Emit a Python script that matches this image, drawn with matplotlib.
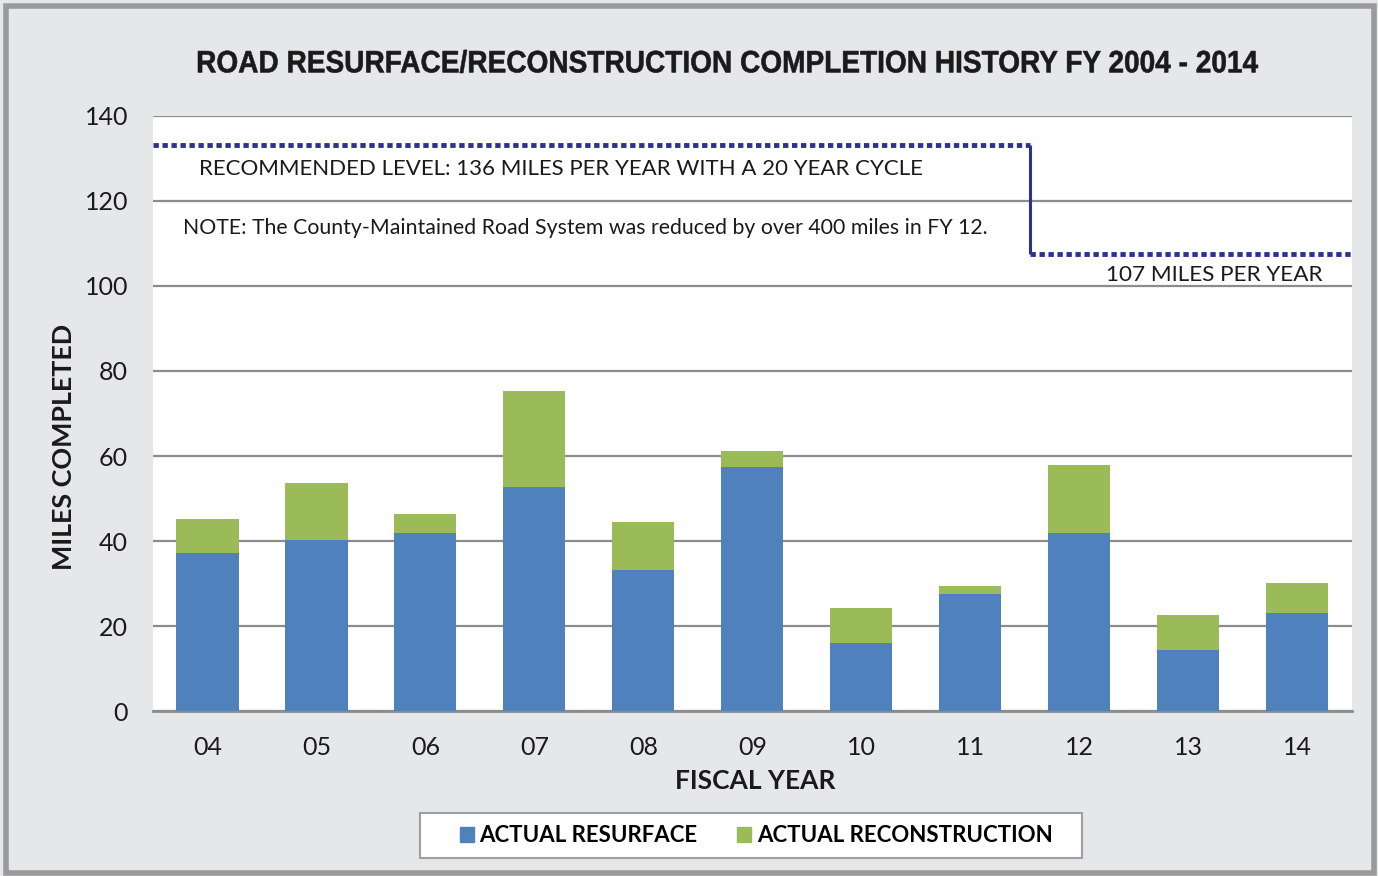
import matplotlib

matplotlib.use("Agg")
import matplotlib.pyplot as plt
from matplotlib.font_manager import FontProperties
from matplotlib.patches import PathPatch, Rectangle
from matplotlib.textpath import TextPath
from matplotlib.transforms import Affine2D

# datos
years = ["04", "05", "06", "07", "08", "09", "10", "11", "12", "13", "14"]
resurface = [37.2, 40.2, 41.9, 52.7, 33.2, 57.4, 16.0, 27.5, 41.9, 14.4, 23.1]
reconstruction = [8.0, 13.4, 4.5, 22.6, 11.3, 3.8, 8.2, 1.9, 16.0, 8.2, 7.0]

# nivel recomendado (escalón en FY 12)
level_x = [-0.5, 7.55, 10.5]
level_y = [133.2, 107.4]

yticks = [0, 20, 40, 60, 80, 100, 120, 140]

TITLE = "ROAD RESURFACE/RECONSTRUCTION COMPLETION HISTORY FY 2004 - 2014"

BLUE = "#4f81bd"
GREEN = "#9bbb59"
NAVY = "#2e3192"
GRID = "#8c8c8c"
BG = "#e6e7e9"
INK = "#1a1a1a"

plt.rcParams["font.family"] = ["Lato", "DejaVu Sans"]

W, H = 1378, 876
fig = plt.figure(figsize=(W / 100, H / 100), dpi=100)
fig.patch.set_facecolor(BG)
fig.patches.append(Rectangle((0.004, 0.003), 0.993, 0.99, transform=fig.transFigure,
                             fill=False, edgecolor="#9a9a9a", linewidth=4))

ax = fig.add_axes([0.111, 0.188, 0.870, 0.680])
x = range(len(years))
ax.bar(x, resurface, width=0.57, color=BLUE, zorder=3)
ax.bar(x, reconstruction, width=0.57, bottom=resurface, color=GREEN, zorder=3)

ax.hlines(level_y, level_x[:-1], level_x[1:], colors=NAVY, linewidth=3.5,
          linestyles=(0, (1.1, 0.75)), zorder=4)
ax.vlines(level_x[1], level_y[1], level_y[0], colors=NAVY, linewidth=2.2, zorder=4)

ax.text(-0.08, 127.5, "RECOMMENDED LEVEL: 136 MILES PER YEAR WITH A 20 YEAR CYCLE",
        fontsize=16, color=INK, va="center")
ax.text(-0.22, 113.5, "NOTE: The County-Maintained Road System was reduced by over 400 miles in FY 12.",
        fontsize=15.3, color=INK, va="center")
ax.text(10.23, 102.6, "107 MILES PER YEAR", fontsize=16.2, color=INK,
        ha="right", va="center")

ax.set_xlim(-0.5, len(years) - 0.5)
ax.set_ylim(0, 140)
ax.set_yticks(yticks)
ax.set_xticks(list(x))
ax.set_xticklabels(years)
ax.grid(axis="y", color=GRID, linewidth=1.6, zorder=0)
ax.tick_params(length=0, labelsize=18, colors=INK)
ax.tick_params(axis="y", pad=18)
ax.tick_params(axis="x", pad=18)
for side in ["top", "right", "left"]:
    ax.spines[side].set_visible(False)
ax.spines["bottom"].set_color(GRID)
ax.spines["bottom"].set_linewidth(2)

fig.text(755 / W, 1 - 781 / H, "FISCAL YEAR", fontsize=19, fontweight="bold",
         color=INK, ha="center", va="center")
fig.text(64 / W, 1 - 447 / H, "MILES COMPLETED", fontsize=19.4, fontweight="bold",
         color=INK, ha="center", va="center", rotation=90)

# título estrecho: se comprime el texto a lo ancho para imitar la fuente condensada
tp = TextPath((0, 0), TITLE, size=31,
              prop=FontProperties(family="Liberation Sans", weight="bold"))
ext = tp.get_extents()
sx = 1060 / ext.width
tr = Affine2D().translate(-ext.x0, -ext.y0).scale(sx, 1).translate(198, H - 73)
fig.patches.append(PathPatch(tp, transform=tr, facecolor=INK, edgecolor=INK, linewidth=0.4))

fig.patches.append(Rectangle((420 / W, 1 - 858 / H), 662 / W, 45 / H, transform=fig.transFigure,
                             facecolor="white", edgecolor="#a0a0a0", linewidth=1.5))
fig.legend(handles=[Rectangle((0, 0), 1, 1, color=BLUE), Rectangle((0, 0), 1, 1, color=GREEN)],
           labels=["ACTUAL RESURFACE", "ACTUAL RECONSTRUCTION"],
           loc="center", bbox_to_anchor=(756 / W, 1 - 836 / H), ncol=2, frameon=False,
           handlelength=0.65, handleheight=0.65, handletextpad=0.25, columnspacing=1.75,
           prop={"weight": "bold", "size": 16})

fig.savefig("out.png", dpi=100, facecolor=BG)
